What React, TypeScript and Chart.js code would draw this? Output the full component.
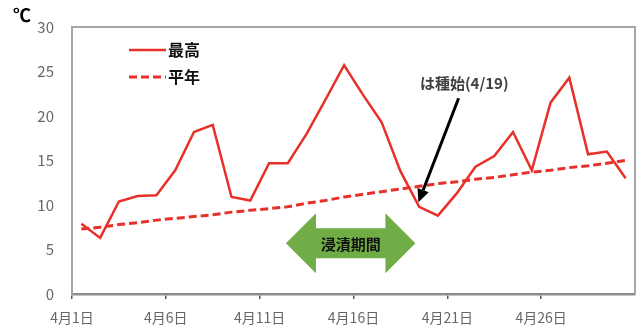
import { useEffect, useRef } from 'react';
import { Chart, registerables } from 'chart.js';

Chart.register(...registerables);

// ---- data ----
const DAYS = [1, 2, 3, 4, 5, 6, 7, 8, 9, 10, 11, 12, 13, 14, 15, 16, 17, 18, 19, 20, 21, 22, 23, 24, 25, 26, 27, 28, 29, 30];
const MAX_TEMP = [7.9, 6.3, 10.4, 11.0, 11.1, 13.9, 18.2, 19.0, 10.9, 10.5, 14.7, 14.7, 18.0, 21.8, 25.7, 22.4, 19.3, 13.8, 9.8, 8.8, 11.3, 14.3, 15.5, 18.2, 13.9, 21.5, 24.3, 15.7, 16.0, 13.0];
const NORMAL_TEMP = [7.3, 7.5, 7.8, 8.0, 8.3, 8.5, 8.7, 8.9, 9.2, 9.4, 9.6, 9.8, 10.2, 10.5, 10.9, 11.2, 11.5, 11.8, 12.1, 12.4, 12.6, 12.9, 13.1, 13.4, 13.7, 13.9, 14.2, 14.4, 14.7, 15.0];
const SERIES_LABELS = ['最高', '平年'];
const X_TICK_DAYS = [1, 6, 11, 16, 21, 26];
const MONTH = 4;
const Y_MIN = 0;
const Y_MAX = 30;
const Y_STEP = 5;
const UNIT_LABEL = '℃';
const SOWING_LABEL = 'は種始(4/19)';
const SOAK_LABEL = '浸漬期間';

// annotation anchors in data units
const SOAK_FROM = 11.4;
const SOAK_TO = 18.3;
const SOAK_Y = 5.7;
const SOW_TEXT = { x: 20.9, y: 23.7 };
const SOW_TAIL = { x: 20.6, y: 22.0 };
const SOW_TIP = { x: 18.46, y: 10.3 };

const FONT = '"Noto Sans CJK JP", "Noto Sans", sans-serif';
const RED = '#e8302a';

const overlay = {
  id: 'overlay',
  afterDatasetsDraw(chart: any) {
    const { ctx, chartArea: a, scales } = chart;
    const x = scales.x;
    const y = scales.y;
    ctx.save();

    // top / right frame
    ctx.strokeStyle = '#a6a6a6';
    ctx.lineWidth = 2;
    ctx.beginPath();
    ctx.moveTo(a.left, a.top);
    ctx.lineTo(a.right, a.top);
    ctx.lineTo(a.right, a.bottom);
    ctx.stroke();

    // unit label
    ctx.fillStyle = '#000';
    ctx.font = `bold 18px ${FONT}`;
    ctx.textAlign = 'center';
    ctx.textBaseline = 'middle';
    ctx.fillText(UNIT_LABEL, 22, 15);

    // legend
    chart.data.datasets.forEach((ds: any, i: number) => {
      const ly = a.top + 23 + i * 27;
      ctx.strokeStyle = ds.borderColor;
      ctx.lineWidth = ds.borderWidth;
      ctx.setLineDash(ds.borderDash || []);
      ctx.beginPath();
      ctx.moveTo(a.left + 57, ly);
      ctx.lineTo(a.left + 94, ly);
      ctx.stroke();
      ctx.setLineDash([]);
      ctx.fillStyle = '#111';
      ctx.font = `bold 16px ${FONT}`;
      ctx.textAlign = 'left';
      ctx.textBaseline = 'middle';
      ctx.fillText(ds.label, a.left + 96, ly);
    });

    // green double arrow
    const xl = x.getPixelForValue(SOAK_FROM);
    const xr = x.getPixelForValue(SOAK_TO);
    const yc = y.getPixelForValue(SOAK_Y);
    const hh = 30, sh = 15, head = 30;
    ctx.fillStyle = '#70ad47';
    ctx.beginPath();
    ctx.moveTo(xl, yc);
    ctx.lineTo(xl + head, yc - hh);
    ctx.lineTo(xl + head, yc - sh);
    ctx.lineTo(xr - head, yc - sh);
    ctx.lineTo(xr - head, yc - hh);
    ctx.lineTo(xr, yc);
    ctx.lineTo(xr - head, yc + hh);
    ctx.lineTo(xr - head, yc + sh);
    ctx.lineTo(xl + head, yc + sh);
    ctx.lineTo(xl + head, yc + hh);
    ctx.closePath();
    ctx.fill();
    ctx.fillStyle = '#111';
    ctx.font = `bold 15px ${FONT}`;
    ctx.textAlign = 'center';
    ctx.textBaseline = 'middle';
    ctx.fillText(SOAK_LABEL, (xl + xr) / 2, yc + 1);

    // sowing label and arrow
    ctx.fillStyle = '#404040';
    ctx.font = `bold 15px ${FONT}`;
    ctx.fillText(SOWING_LABEL, x.getPixelForValue(SOW_TEXT.x), y.getPixelForValue(SOW_TEXT.y));
    const tx = x.getPixelForValue(SOW_TAIL.x), ty = y.getPixelForValue(SOW_TAIL.y);
    const px = x.getPixelForValue(SOW_TIP.x), py = y.getPixelForValue(SOW_TIP.y);
    const ang = Math.atan2(py - ty, px - tx);
    const hl = 13, hw = 6;
    const bx = px - hl * Math.cos(ang), by = py - hl * Math.sin(ang);
    ctx.strokeStyle = '#000';
    ctx.lineWidth = 3;
    ctx.beginPath();
    ctx.moveTo(tx, ty);
    ctx.lineTo(bx, by);
    ctx.stroke();
    ctx.fillStyle = '#000';
    ctx.beginPath();
    ctx.moveTo(px, py);
    ctx.lineTo(bx + hw * Math.sin(ang), by - hw * Math.cos(ang));
    ctx.lineTo(bx - hw * Math.sin(ang), by + hw * Math.cos(ang));
    ctx.closePath();
    ctx.fill();

    ctx.restore();
  },
};

export default function App() {
  const ref = useRef<HTMLCanvasElement | null>(null);

  useEffect(() => {
    document.body.style.margin = '0';
    const canvas = ref.current;
    if (!canvas) return;
    const chart = new Chart(canvas, {
      type: 'line',
      data: {
        datasets: [
          {
            label: SERIES_LABELS[0],
            data: DAYS.map((d, i) => ({ x: d - 0.5, y: MAX_TEMP[i] })),
            borderColor: RED,
            borderWidth: 2.5,
            pointRadius: 0,
            tension: 0,
            fill: false,
          },
          {
            label: SERIES_LABELS[1],
            data: DAYS.map((d, i) => ({ x: d - 0.5, y: NORMAL_TEMP[i] })),
            borderColor: RED,
            borderWidth: 3,
            borderDash: [8, 4],
            pointRadius: 0,
            tension: 0,
            fill: false,
          },
        ],
      },
      options: {
        animation: false,
        responsive: false,
        devicePixelRatio: 1,
        layout: { padding: { left: 8, right: 2, top: 12, bottom: 0 } },
        plugins: { legend: { display: false }, tooltip: { enabled: false } },
        scales: {
          x: {
            type: 'linear',
            min: 0,
            max: DAYS.length,
            afterBuildTicks: (scale: any) => {
              scale.ticks = X_TICK_DAYS.map((d) => ({ value: d - 1 }));
            },
            afterFit: (scale: any) => {
              scale.height = 32;
            },
            ticks: {
              autoSkip: false,
              maxRotation: 0,
              padding: 10,
              color: '#666666',
              font: { family: FONT, size: 14 },
              callback: (v: any) => `${MONTH}月${Number(v) + 1}日`,
            },
            grid: { display: true, drawOnChartArea: false, drawTicks: true, tickLength: 5, color: '#595959', lineWidth: 1.5 },
            border: { display: true, color: '#8c8c8c', width: 2.5 },
          },
          y: {
            min: Y_MIN,
            max: Y_MAX,
            afterFit: (scale: any) => {
              scale.width = 64;
            },
            ticks: {
              stepSize: Y_STEP,
              padding: 18,
              color: '#666666',
              font: { family: FONT, size: 15 },
            },
            grid: { display: false, drawTicks: false },
            border: { display: true, color: '#a6a6a6', width: 2 },
          },
        },
      },
      plugins: [overlay],
    });
    return () => chart.destroy();
  }, []);

  return <canvas ref={ref} width={637} height={326} style={{ display: 'block' }} />;
}
